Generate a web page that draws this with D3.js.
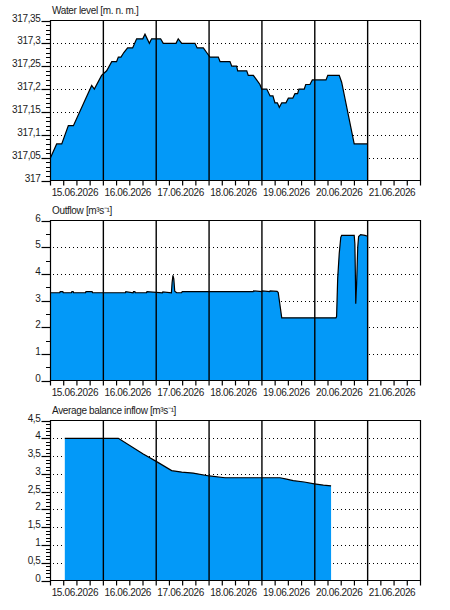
<!DOCTYPE html>
<html><head><meta charset="utf-8">
<script src="https://cdn.jsdelivr.net/npm/d3@7/dist/d3.min.js"></script>
<style>
body{margin:0;background:#fff}
svg{display:block;background:#fff}
text{font-family:"Liberation Sans",Arial,sans-serif;font-size:10px;letter-spacing:-0.35px;fill:#1a1a1a}
</style>
</head><body>
<svg id="chart" width="450" height="610"></svg>
<script>
// ---- data (time in hours from 15.06.2026 00:00) ----
const dayLabels = ["15.06.2026","16.06.2026","17.06.2026","18.06.2026","19.06.2026","20.06.2026","21.06.2026"];
const panelTitles = ["Water level [m. n. m.]","Outflow [m\u00B3s\u207B\u00B9]","Average balance inflow [m\u00B3s\u207B\u00B9]"];

const levelHours  = [0,2.8,5.1,8.1,10.4,18.7,19.9,23.2,25.5,27.8,30.0,30.8,32.0,33.3,35.0,37.3,39.1,41.9,42.9,44.9,45.9,50.0,51.2,57.0,58.0,59.6,65.6,66.6,69.4,70.9,72.4,76.2,77.0,81.5,82.3,84.5,85.0,89.1,89.8,92.1,93.6,95.1,95.9,98.2,99.7,101.0,101.9,103.0,103.9,105.0,106.9,108.0,110.0,111.0,112.2,112.8,115.2,115.9,117.8,118.9,125.1,125.9,131.1,132.2,137.9,144];
const levelValues = [317.05,317.08,317.08,317.12,317.12,317.208,317.20,317.23,317.24,317.26,317.26,317.27,317.27,317.28,317.29,317.29,317.31,317.31,317.32,317.30,317.31,317.31,317.30,317.30,317.31,317.30,317.30,317.29,317.29,317.28,317.27,317.27,317.26,317.26,317.25,317.25,317.24,317.24,317.23,317.23,317.22,317.21,317.20,317.20,317.185,317.185,317.17,317.17,317.16,317.17,317.17,317.18,317.18,317.19,317.19,317.20,317.20,317.21,317.21,317.22,317.22,317.23,317.23,317.215,317.08,317.08];

const outflowHours  = [0,4.2,4.4,5.6,5.8,9.5,9.7,10.3,10.5,15.9,16.1,18.9,19.1,34.0,34.2,37.5,37.7,38.3,38.5,43.6,43.8,50.8,51.0,54.9,55.2,55.6,56.0,56.4,57.3,59.5,59.8,92.0,92.2,96.0,96.2,99.5,99.7,102.9,103.4,105.0,129.6,129.9,130.4,131.1,131.8,132.2,137.9,138.2,138.4,138.6,139.0,139.5,139.9,140.8,142.8,143.6,144];
const outflowValues = [3.29,3.29,3.33,3.33,3.29,3.29,3.33,3.33,3.29,3.29,3.33,3.33,3.29,3.29,3.33,3.29,3.33,3.33,3.29,3.29,3.33,3.29,3.32,3.29,3.66,3.94,3.80,3.35,3.29,3.29,3.33,3.33,3.36,3.33,3.36,3.33,3.36,3.34,3.30,2.35,2.35,2.40,3.83,4.76,5.37,5.44,5.44,5.13,4.13,2.88,3.63,5.0,5.40,5.47,5.44,5.42,5.42];

const inflowHours  = [6.5,30.8,42.1,48.0,55.0,59.6,64.8,72.1,79.2,104.2,107.2,110.2,115.2,119.8,123.9,127.4];
const inflowValues = [4.0,4.0,3.56,3.35,3.09,3.05,3.02,2.94,2.89,2.89,2.85,2.81,2.77,2.72,2.68,2.66];

const levelTickValues = [317,317.05,317.1,317.15,317.2,317.25,317.3,317.35];
const levelTickLabels = ["317","317,05","317,1","317,15","317,2","317,25","317,3","317,35"];
const outflowTickValues = [0,1,2,3,4,5,6];
const outflowTickLabels = ["0","1","2","3","4","5","6"];
const inflowTickValues = [0,0.5,1,1.5,2,2.5,3,3.5,4,4.5];
const inflowTickLabels = ["0","0,5","1","1,5","2","2,5","3","3,5","4","4,5"];

// ---- drawing ----
const svg = d3.select("#chart");
const X0 = 50.5, X1 = 420.5, H = 160;
const x = d3.scaleLinear().domain([0,168]).range([X0,X1]);
const fillColor = "#0399f8";

const panels = [
  {top:20,  title:panelTitles[0], hours:levelHours,  values:levelValues,  domain:[317,317.35], minor:0.01, ticks:levelTickValues,  labels:levelTickLabels},
  {top:220, title:panelTitles[1], hours:outflowHours, values:outflowValues, domain:[0,6], minor:0.5, ticks:outflowTickValues, labels:outflowTickLabels},
  {top:420, title:panelTitles[2], hours:inflowHours,  values:inflowValues,  domain:[0,4.5], minor:0.1, ticks:inflowTickValues, labels:inflowTickLabels}
];

panels.forEach(p => {
  const g = svg.append("g");
  const bottom = p.top + H + 0.5;
  const y = d3.scaleLinear().domain(p.domain).range([bottom, p.top + 0.5]);
  const data = p.hours.map((h,i) => [h, p.values[i]]);

  // dotted horizontal gridlines
  p.ticks.slice(1, -1).forEach(v => {
    g.append("line").attr("x1", 53).attr("x2", X1 - 1)
      .attr("y1", Math.round(y(v)) + 0.5).attr("y2", Math.round(y(v)) + 0.5)
      .attr("stroke", "#000").attr("stroke-width", 1).attr("stroke-dasharray", "1,3");
  });

  // area + outline
  g.append("path").datum(data)
    .attr("d", d3.area().x(d => x(d[0])).y0(y(p.domain[0])).y1(d => y(d[1])))
    .attr("fill", fillColor);
  g.append("path").datum(data)
    .attr("d", d3.line().x(d => x(d[0])).y(d => y(d[1])))
    .attr("fill", "none").attr("stroke", "#000").attr("stroke-width", 1.2);

  // vertical day gridlines
  d3.range(1, 7).forEach(k => {
    g.append("line").attr("x1", x(k*24)).attr("x2", x(k*24))
      .attr("y1", p.top).attr("y2", bottom)
      .attr("stroke", "#000").attr("stroke-width", 1.4);
  });

  // frame
  g.append("path")
    .attr("d", `M${X0},${p.top+0.5}H${X1}V${bottom}H${X0}Z`)
    .attr("fill", "none").attr("stroke", "#000").attr("stroke-width", 1.2);

  // y minor ticks
  const nMinor = Math.round((p.domain[1]-p.domain[0]) / p.minor);
  d3.range(0, nMinor + 1).forEach(i => {
    const v = p.domain[0] + i * p.minor;
    const yy = Math.round(y(v)) + 0.5;
    g.append("line").attr("x1", 46).attr("x2", X0).attr("y1", yy).attr("y2", yy)
      .attr("stroke", "#000").attr("stroke-width", 1);
  });
  // y major ticks + labels
  p.ticks.forEach((v, i) => {
    const yy = Math.round(y(v)) + 0.5;
    g.append("line").attr("x1", 41.5).attr("x2", X0).attr("y1", yy).attr("y2", yy)
      .attr("stroke", "#000").attr("stroke-width", 1.2);
    g.append("text").attr("x", 40.5).attr("y", yy + 0.5)
      .attr("text-anchor", "end").text(p.labels[i]);
  });

  // x ticks every 6 hours
  d3.range(0, 169, 6).forEach(h => {
    g.append("line").attr("x1", x(h)).attr("x2", x(h))
      .attr("y1", bottom).attr("y2", bottom + 5)
      .attr("stroke", "#000").attr("stroke-width", 1.2);
  });
  // x labels
  dayLabels.forEach((lab, k) => {
    g.append("text").attr("x", x(k*24 + 12) - 2).attr("y", bottom + 15)
      .attr("text-anchor", "middle").text(lab);
  });

  // title
  g.append("text").attr("x", 52).attr("y", p.top - 6).text(p.title);
});
</script>
</body></html>
